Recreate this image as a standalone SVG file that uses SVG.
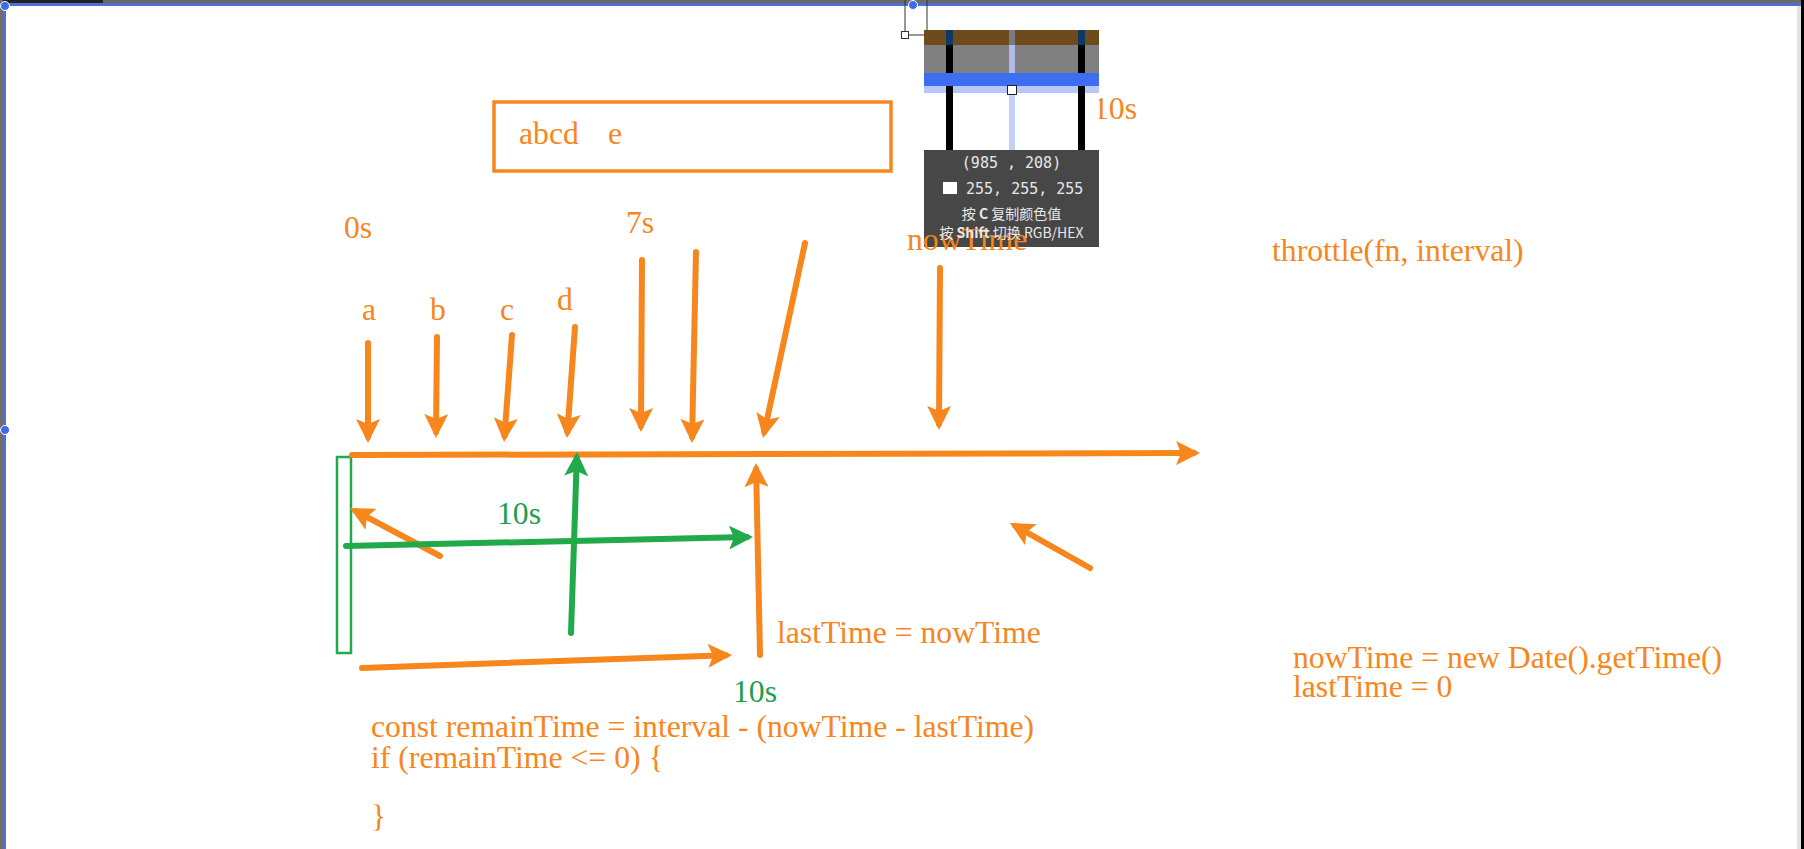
<svg xmlns="http://www.w3.org/2000/svg" width="1804" height="849" viewBox="0 0 1804 849">
<style>
.o{fill:#f7861c;font-family:"Liberation Serif","Times New Roman",serif;font-size:31.7px}
.g{fill:#1f9e4c;font-family:"Liberation Serif","Times New Roman",serif;font-size:31.7px}
.lo{stroke:#f7861c;stroke-width:6;fill:none;stroke-linecap:round;marker-end:url(#ao)}
.lg{stroke:#21a94a;stroke-width:6;fill:none;stroke-linecap:round;marker-end:url(#ag)}
.mono{fill:#e8e8e8;font-family:"DejaVu Sans Mono","Liberation Mono",monospace;font-size:15px}
.cjk{fill:#e8e8e8;font-family:"Noto Sans CJK SC","Noto Sans",sans-serif;font-size:14px}
</style>
<defs>
<marker id="ao" viewBox="0 0 24 24" markerWidth="24" markerHeight="24" refX="18" refY="12" orient="auto" markerUnits="userSpaceOnUse"><path d="M0,0 L24,12 L0,24 L5,12 z" fill="#f7861c"/></marker>
<marker id="ag" viewBox="0 0 24 24" markerWidth="24" markerHeight="24" refX="18" refY="12" orient="auto" markerUnits="userSpaceOnUse"><path d="M0,0 L24,12 L0,24 L5,12 z" fill="#21a94a"/></marker>
</defs>
<rect width="1804" height="849" fill="#ffffff"/>
<g id="frame">
<rect x="0" y="0" width="1804" height="3" fill="#6d6a66"/>
<rect x="0" y="0" width="103" height="3" fill="#222"/>
<rect x="0" y="3" width="1804" height="3" fill="#4d6fd6"/>
<rect x="0" y="0" width="3" height="849" fill="#6f6f6f"/>
<rect x="3" y="3" width="3" height="846" fill="#4d6fd6"/>
<rect x="1797" y="6" width="4" height="843" fill="#e2e2e2"/>
<rect x="1801" y="0" width="3" height="849" fill="#000"/>
<circle cx="5" cy="6" r="4.5" fill="#3d6af0" stroke="#fff" stroke-width="1"/>
<circle cx="5" cy="430" r="4.5" fill="#3d6af0" stroke="#fff" stroke-width="1"/>
</g>
<g id="box-abcd">
<rect x="494" y="102" width="397" height="69" fill="none" stroke="#f7861c" stroke-width="3.5"/>
<text class="o" x="519" y="144">abcd</text>
<text class="o" x="608" y="144">e</text>
</g>
<g id="labels">
<text class="o" x="344" y="238">0s</text>
<text class="o" x="626" y="233">7s</text>
<text class="o" x="362" y="320">a</text>
<text class="o" x="430" y="320">b</text>
<text class="o" x="500" y="320">c</text>
<text class="o" x="557" y="310">d</text>
<text class="g" x="497" y="524">10s</text>
<text class="g" x="733" y="702">10s</text>
<text class="o" x="777" y="643">lastTime = nowTime</text>
<text class="o" x="1093" y="119">10s</text>
</g>
<g id="code">
<text class="o" x="371" y="737">const remainTime = interval - (nowTime - lastTime)</text>
<text class="o" x="371" y="768">if (remainTime &lt;= 0) {</text>
<text class="o" x="371" y="827">}</text>
</g>
<g id="notes">
<text class="o" x="1272" y="261">throttle(fn, interval)</text>
<text class="o" x="1293" y="668">nowTime = new Date().getTime()</text>
<text class="o" x="1293" y="697">lastTime = 0</text>
</g>
<g id="window-rect">
<rect x="337" y="457" width="14" height="196" fill="none" stroke="#21a94a" stroke-width="2.5"/>
</g>
<g id="connectors">
<line class="lo" x1="352" y1="455" x2="1194" y2="453"/>
<line class="lo" x1="368" y1="343" x2="368" y2="437"/>
<line class="lo" x1="437" y1="337" x2="436" y2="432"/>
<line class="lo" x1="512" y1="335" x2="504.5" y2="436"/>
<line class="lo" x1="575" y1="327" x2="567.4" y2="432"/>
<line class="lo" x1="642" y1="260" x2="641" y2="426"/>
<line class="lo" x1="696" y1="252" x2="692.1" y2="437"/>
<line class="lo" x1="805" y1="243" x2="764.3" y2="432.1"/>
<line class="lo" x1="940" y1="268" x2="939" y2="424"/>
<line class="lo" x1="760" y1="655" x2="756.1" y2="469"/>
<line class="lo" x1="440" y1="556" x2="355.3" y2="510.8"/>
<line class="lo" x1="1090" y1="568" x2="1015.2" y2="525.9"/>
<line class="lo" x1="362" y1="668" x2="726" y2="655.2"/>
<line class="lg" x1="346" y1="546" x2="747" y2="537.1"/>
<line class="lg" x1="571" y1="633" x2="576.8" y2="458"/>
</g>
<g id="color-picker">
<line x1="905" y1="0" x2="905" y2="35" stroke="#333" stroke-width="1"/>
<line x1="927" y1="0" x2="927" y2="35" stroke="#333" stroke-width="1"/>
<line x1="905" y1="35" x2="927" y2="35" stroke="#333" stroke-width="1"/>
<rect x="901.5" y="31.5" width="7" height="7" fill="#fff" stroke="#333" stroke-width="1"/>
<circle cx="913" cy="5" r="4.5" fill="#3d6af0" stroke="#fff" stroke-width="1"/>
<rect x="924" y="30" width="175" height="120" fill="#ffffff"/>
<rect x="924" y="45" width="175" height="28" fill="#808080"/>
<rect x="946" y="30" width="7" height="120" fill="#000"/>
<rect x="1078" y="30" width="7" height="120" fill="#000"/>
<rect x="1009" y="30" width="6" height="120" fill="#b8c7f7" opacity="0.85"/>
<rect x="924" y="30" width="175" height="15" fill="#6e4b1c"/>
<rect x="946" y="30" width="7" height="15" fill="#0c3a66"/>
<rect x="1078" y="30" width="7" height="15" fill="#0c3a66"/>
<rect x="1009" y="30" width="6" height="15" fill="#7a7a86"/>
<rect x="924" y="73" width="175" height="13" fill="#3d6ef2"/>
<rect x="924" y="86" width="175" height="7" fill="#b8c7f7"/>
<rect x="946" y="86" width="7" height="7" fill="#000"/>
<rect x="1078" y="86" width="7" height="7" fill="#000"/>
<rect x="1007.5" y="85.5" width="9" height="9" fill="#fff" stroke="#222" stroke-width="1"/>
<rect x="924" y="150" width="175" height="97" fill="#474747"/>
<text class="o" x="907" y="250">nowTime</text>
<text class="mono" x="1011.5" y="168" text-anchor="middle">(985 , 208)</text>
<rect x="943" y="182" width="14" height="12" fill="#fff"/>
<text class="mono" x="966" y="194">255, 255, 255</text>
<text class="cjk" x="1011.5" y="219" text-anchor="middle">按 <tspan font-weight="bold">C</tspan> 复制颜色值</text>
<text class="cjk" x="1011.5" y="238" text-anchor="middle">按 <tspan font-weight="bold">Shift</tspan> 切换 RGB/HEX</text>
</g>
</svg>
